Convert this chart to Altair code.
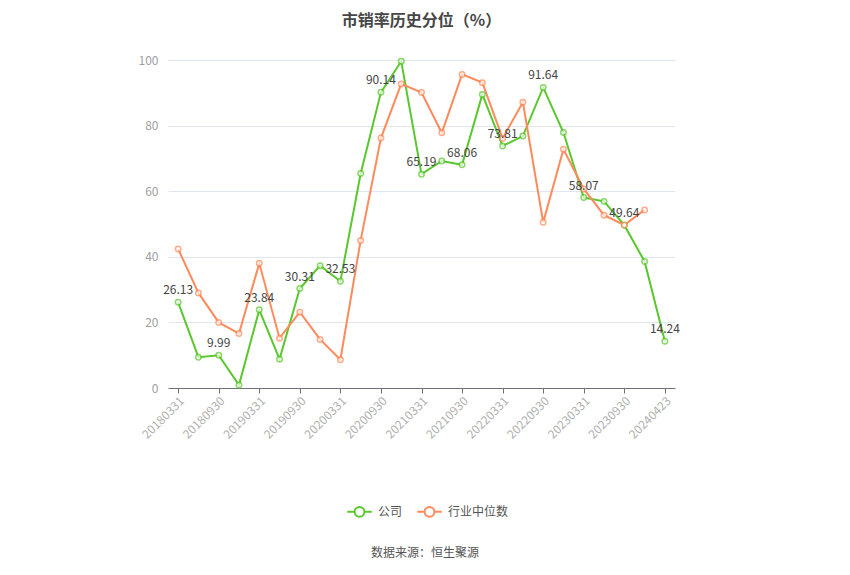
import altair as alt
import pandas as pd

dates = ["20180331", "20180630", "20180930", "20181231",
         "20190331", "20190630", "20190930", "20191231",
         "20200331", "20200630", "20200930", "20201231",
         "20210331", "20210630", "20210930", "20211231",
         "20220331", "20220630", "20220930", "20221231",
         "20230331", "20230630", "20230930", "20231231",
         "20240423"]
company = [26.13, 9.4, 9.99, 0.9, 23.84, 8.8, 30.31, 37.3, 32.53, 65.4, 90.14, 99.6,
           65.19, 69.2, 68.06, 89.5, 73.81, 76.8, 91.64, 77.9, 58.07, 56.9, 49.64, 38.6,
           14.24]
industry = [42.4, 29.0, 20.0, 16.6, 38.0, 15.2, 23.1, 14.8, 8.6, 45.0, 76.2, 92.7,
            90.1, 77.8, 95.6, 93.1, 76.1, 87.1, 50.5, 72.8, 60.7, 52.7, 49.7, 54.3]
label_idx = list(range(0, 25, 2))
tick_labels = [dates[i] for i in label_idx]
series_names = ["公司", "行业中位数"]
colors = ["#5BC72E", "#FF8A5B"]
title_text = "市销率历史分位（%）"
source_text = "数据来源：恒生聚源"

rows = []
for i, d in enumerate(dates):
    rows.append({"date": d, "series": "公司", "value": company[i],
                 "label": f"{company[i]:.2f}" if i in label_idx else ""})
for i, v in enumerate(industry):
    rows.append({"date": dates[i], "series": "行业中位数", "value": v, "label": ""})
df = pd.DataFrame(rows)

FONT = "Noto Sans CJK SC"

x_enc = alt.X("date:O", sort=dates, scale=alt.Scale(domain=dates, padding=0.5),
              axis=alt.Axis(values=tick_labels, title=None, labelAngle=-45,
                            labelAlign="right", labelBaseline="top",
                            labelColor="#b0b0b0", labelFontSize=12,
                            labelPadding=2, tickColor="#6E7079", tickSize=5,
                            domainColor="#6E7079", grid=False, labelFont=FONT))
y_enc = alt.Y("value:Q", scale=alt.Scale(domain=[0, 100], nice=False),
              axis=alt.Axis(values=[0, 20, 40, 60, 80, 100], title=None,
                            domain=False, ticks=False, labelColor="#a0a0a0",
                            labelFontSize=12, labelPadding=10,
                            gridColor="#E0E6F1", labelFont=FONT))

legend_path = ("M-1,0L-0.4,0M0.4,0L1,0M0.4,0A0.4,0.4,0,1,1,-0.4,0"
               "A0.4,0.4,0,1,1,0.4,0")

base = alt.Chart(df)

lines = base.mark_line(strokeWidth=2).encode(
    x=x_enc, y=y_enc,
    color=alt.Color("series:N", scale=alt.Scale(domain=series_names, range=colors),
                    legend=alt.Legend(title=None, orient="none", direction="horizontal",
                                      legendX=178, legendY=438,
                                      symbolType=legend_path, symbolSize=600,
                                      symbolStrokeWidth=2, symbolFillColor="white",
                                      labelColor="#555", labelFontSize=12,
                                      labelFont=FONT, columnPadding=10,
                                      labelOffset=5)),
)

points = base.mark_point(filled=True, fill="white", size=30, strokeWidth=1.5,
                         shape="circle").encode(
    x=x_enc, y=y_enc,
    stroke=alt.Stroke("series:N", scale=alt.Scale(domain=series_names, range=colors),
                      legend=None),
)

labels = base.transform_filter("datum.label != ''").mark_text(
    dy=-12, fontSize=12, color="#444", font=FONT).encode(
    x=x_enc, y=y_enc, text="label:N")

source = alt.Chart(pd.DataFrame({"t": [source_text]})).mark_text(
    fontSize=12, color="#555", font=FONT).encode(
    text="t:N", x=alt.value(257), y=alt.value(493))

chart = alt.layer(lines, points, labels, source).properties(
    width=507, height=328,
    title=alt.TitleParams(title_text, fontSize=16, fontWeight="bold", color="#464646",
                          anchor="middle", offset=25, font=FONT),
    autosize=alt.AutoSizeParams(type="none"),
    padding={"left": 160, "top": 52, "right": 160, "bottom": 176},
).configure_view(stroke=None)

chart.save("out.html", embed_options={"renderer": "svg", "actions": False})
